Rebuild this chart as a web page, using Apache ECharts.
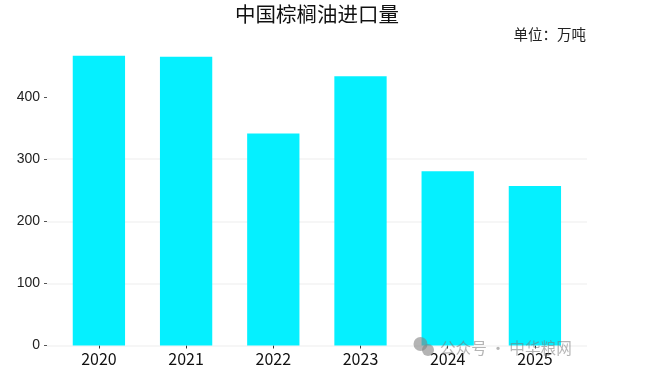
<!DOCTYPE html>
<html>
<head>
<meta charset="utf-8">
<title>中国棕榈油进口量</title>
<script src="https://cdn.jsdelivr.net/npm/echarts@6/dist/echarts.min.js"></script>
<style>
    html, body { margin: 0; padding: 0; background: #fff; }
    #main { width: 662px; height: 385px; }
</style>
</head>
<body>
<div id="main"></div>
<script>
var years = ['2020', '2021', '2022', '2023', '2024', '2025'];
var imports = [466.5, 465, 341.5, 433.5, 280.5, 257];
var yTicks = [0, 100, 200, 300, 400];
var titleText = '中国棕榈油进口量';
var unitText = '单位：万吨';
var watermarkText = '公众号 · 中华粮网';

var cjk = '"Noto Sans CJK SC", "Noto Sans", sans-serif';
var myChart = echarts.init(document.getElementById('main'));

// two grids: the wider one only carries the y axis and gridlines, the bars sit in the narrower one
var option = {
    animation: false,
    textStyle: { fontFamily: cjk },
    grid: [
        { left: 47, width: 540, top: 35, height: 310.5 },
        { left: 55.3, width: 523.2, top: 35, height: 310.5 }
    ],
    xAxis: [{
        gridIndex: 0,
        type: 'category',
        data: years,
        show: false
    }, {
        gridIndex: 1,
        type: 'category',
        data: years,
        axisLine: { show: false },
        axisTick: { show: true, alignWithLabel: true, length: 3, lineStyle: { color: '#333' } },
        axisLabel: { color: '#111', fontSize: 16, margin: 5, interval: 0 }
    }],
    yAxis: [{
        gridIndex: 0,
        type: 'value',
        min: 0,
        max: 500,
        interval: 100,
        axisLine: { show: false },
        axisTick: { show: true, length: 3, lineStyle: { color: '#555' }, customValues: yTicks },
        axisLabel: { color: '#222', fontSize: 14, margin: 7, padding: [2, 0, 0, 0], fontFamily: '"Liberation Sans", sans-serif', customValues: yTicks },
        splitLine: { show: true, showMaxLine: false, lineStyle: { color: '#f3f3f3', width: 1.5 } }
    }, {
        gridIndex: 1,
        type: 'value',
        min: 0,
        max: 500,
        interval: 100,
        show: false
    }],
    series: [{
        type: 'bar',
        xAxisIndex: 1,
        yAxisIndex: 1,
        data: imports,
        barWidth: 52.3,
        itemStyle: { color: '#00F0FF', opacity: 0.98 }
    }],
    graphic: [
        { type: 'text', x: 317, y: 4, style: { text: titleText, align: 'center', font: '20.5px ' + cjk, fill: '#111' } },
        { type: 'text', x: 586, y: 27, style: { text: unitText, align: 'right', font: '14.5px ' + cjk, fill: '#222' } },
        // watermark
        { type: 'circle', shape: { cx: 420.5, cy: 344, r: 7 }, style: { fill: 'rgba(130,130,130,0.6)' }, z: 20 },
        { type: 'circle', shape: { cx: 428, cy: 350, r: 6 }, style: { fill: 'rgba(130,130,130,0.6)' }, z: 20 },
        { type: 'text', x: 440, y: 340, style: { text: watermarkText, font: '15.6px ' + cjk, fill: 'rgba(120,120,120,0.55)' }, z: 20 }
    ]
};
myChart.setOption(option);
</script>
</body>
</html>
